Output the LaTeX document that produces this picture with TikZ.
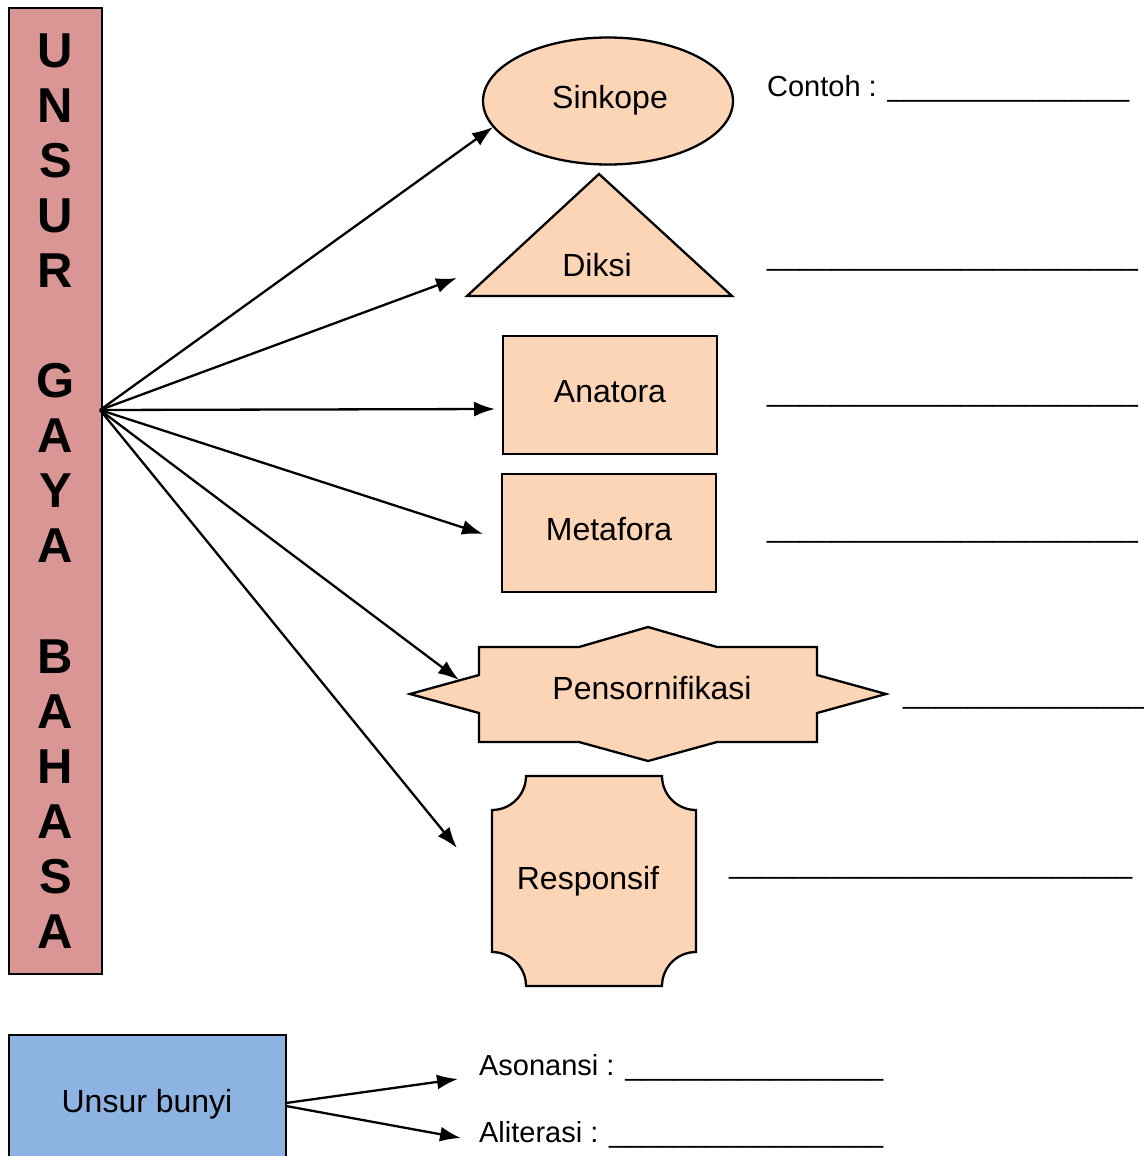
\documentclass[tikz,border=0pt]{standalone}
\usepackage{fontspec}
\setmainfont{Liberation Sans}
\usepackage{tikz}
\usetikzlibrary{arrows.meta,shapes.geometric}
\definecolor{pinkbox}{HTML}{D99694}
\definecolor{peach}{HTML}{FBD5B5}
\definecolor{bluebox}{HTML}{8DB3E2}
\newcommand{\blanks}[1]{\foreach \i in {1,...,#1}{\_}}
\begin{document}
\begin{tikzpicture}[x=1pt,y=-1pt,line width=2.3pt,
    every node/.style={font=\fontsize{32}{38}\selectfont},
    shapebox/.style={draw,fill=peach},
    answer/.style={anchor=base west,inner sep=0pt,font=\fontsize{29}{34}\selectfont},
    arr/.style={-{Latex[length=21pt,width=15pt]}}]
    \useasboundingbox (0,0) rectangle (1143,1156);
    \node [draw,fill=pinkbox,minimum width=93,minimum height=966,inner sep=0pt,align=center,
        font=\fontsize{49}{55.1}\selectfont\bfseries] (unsur) at (55.5,491)
        {U\\N\\S\\U\\R\\[55.1pt]G\\A\\Y\\A\\[55.1pt]B\\A\\H\\A\\S\\A};
    \coordinate (hub) at (100,410);
    \node [shapebox,ellipse,minimum width=250,minimum height=127,inner sep=0pt] (sinkope) at (608,101) {};
    \node at (610,100) {Sinkope};
    \draw [shapebox] (599,174) --(732,296) --(467,296) --cycle;
    \node (diksi) at (597,265) {Diksi};
    \node [shapebox,minimum width=214,minimum height=118,text depth=8pt] (anatora) at (610,395) {Anatora};
    \node [shapebox,minimum width=214,minimum height=118,text depth=8pt] (metafora) at (609,533) {Metafora};
    \draw [shapebox] (479,647) --(579,647) --(648,627) --(717,647) --(817,647) --(817,675) --(886,694)
        --(817,713) --(817,742) --(717,742) --(648,761) --(579,742) --(479,742) --(479,713)
        --(410,694) --(479,675) --cycle;
    \node (pensornifikasi) at (652,688) {Pensornifikasi};
    \draw [shapebox] (526,776) --(662,776) arc [start angle=180,end angle=90,radius=34]
        --(696,952) arc [start angle=270,end angle=180,radius=34]
        --(526,986) arc [start angle=0,end angle=-90,radius=34]
        --(492,810) arc [start angle=90,end angle=0,radius=34] --cycle;
    \node (responsif) at (588,881) {Responsif};
    \coordinate (tipA) at (493,127);
    \coordinate (tipB) at (457,278);
    \coordinate (tipC) at (495,409);
    \coordinate (tipD) at (483,534);
    \coordinate (tipE) at (459,680);
    \coordinate (tipF) at (457,848);
    \foreach \t in {tipA,tipB,tipC,tipD,tipE,tipF}
        \draw [arr] (hub) --(\t);
    \node [answer] (contoh) at (766,96) {Contoh : \blanks{15}};
    \node [answer] (lineB) at (766,265) {\blanks{23}};
    \node [answer] (lineC) at (766,401) {\blanks{23}};
    \node [answer] (lineD) at (766,537) {\blanks{23}};
    \node [answer] (lineE) at (902,703) {\blanks{15}};
    \node [answer] (lineF) at (728,873) {\blanks{25}};
    \node [draw,fill=bluebox,minimum width=277,minimum height=160,inner sep=0pt] (bunyi) at (147.5,1115) {};
    \node at (147,1104) {Unsur bunyi};
    \coordinate (bunyiA) at (286,1103);
    \coordinate (bunyiB) at (286,1106);
    \node [answer] (asonansi) at (478,1075) {Asonansi : \blanks{16}};
    \node [answer] (aliterasi) at (478,1142) {Aliterasi : \blanks{17}};
    \draw [arr] (bunyiA) --(458,1079);
    \draw [arr] (bunyiB) --(461,1138);
\end{tikzpicture}
\end{document}
